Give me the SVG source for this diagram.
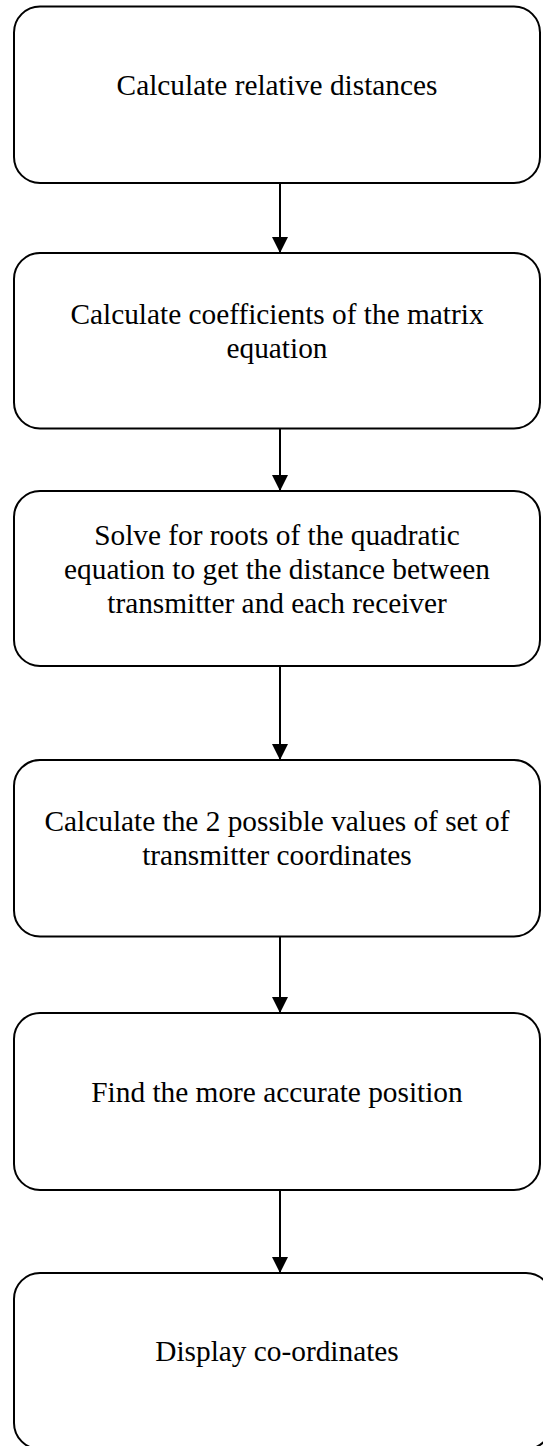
<svg xmlns="http://www.w3.org/2000/svg" width="543" height="1446" viewBox="0 0 543 1446">
<defs>
<style>
.box{fill:#fff;stroke:#000;stroke-width:2}
.lbl{font-family:"Liberation Serif","Times New Roman",serif;font-size:29.33px;fill:#000;text-anchor:middle}
.conn{stroke:#000;stroke-width:2;fill:none}
</style>
<marker id="ah" viewBox="0 0 16 16" refX="15" refY="8" markerWidth="16" markerHeight="16" markerUnits="userSpaceOnUse" orient="auto">
<path d="M0,0 L16,8 L0,16 Z" fill="#000"/>
</marker>
</defs>
<rect width="543" height="1446" fill="#fff"/>
<g id="connectors">
<line class="conn" x1="280" y1="183" x2="280" y2="252" marker-end="url(#ah)"/>
<line class="conn" x1="280" y1="428.5" x2="280" y2="490" marker-end="url(#ah)"/>
<line class="conn" x1="280" y1="666" x2="280" y2="759" marker-end="url(#ah)"/>
<line class="conn" x1="280" y1="936.5" x2="280" y2="1012" marker-end="url(#ah)"/>
<line class="conn" x1="280" y1="1190" x2="280" y2="1272" marker-end="url(#ah)"/>
</g>
<g id="node1">
<rect class="box" x="14" y="6.5" width="526" height="176.5" rx="26"/>
<text class="lbl" x="277" y="94.5">Calculate relative distances</text>
</g>
<g id="node2">
<rect class="box" x="14" y="253" width="526" height="175.5" rx="26"/>
<text class="lbl" x="277" y="324">Calculate coefficients of the matrix</text>
<text class="lbl" x="277" y="358">equation</text>
</g>
<g id="node3">
<rect class="box" x="14" y="491" width="526" height="175" rx="26"/>
<text class="lbl" x="277" y="545">Solve for roots of the quadratic</text>
<text class="lbl" x="277" y="579">equation to get the distance between</text>
<text class="lbl" x="277" y="613">transmitter and each receiver</text>
</g>
<g id="node4">
<rect class="box" x="14" y="760" width="526" height="176.5" rx="26"/>
<text class="lbl" x="277" y="831">Calculate the 2 possible values of set of</text>
<text class="lbl" x="277" y="865">transmitter coordinates</text>
</g>
<g id="node5">
<rect class="box" x="14" y="1013" width="526" height="177" rx="26"/>
<text class="lbl" x="277" y="1102">Find the more accurate position</text>
</g>
<g id="node6">
<rect class="box" x="14" y="1273" width="538" height="176" rx="26"/>
<text class="lbl" x="277" y="1361">Display co-ordinates</text>
</g>
</svg>
